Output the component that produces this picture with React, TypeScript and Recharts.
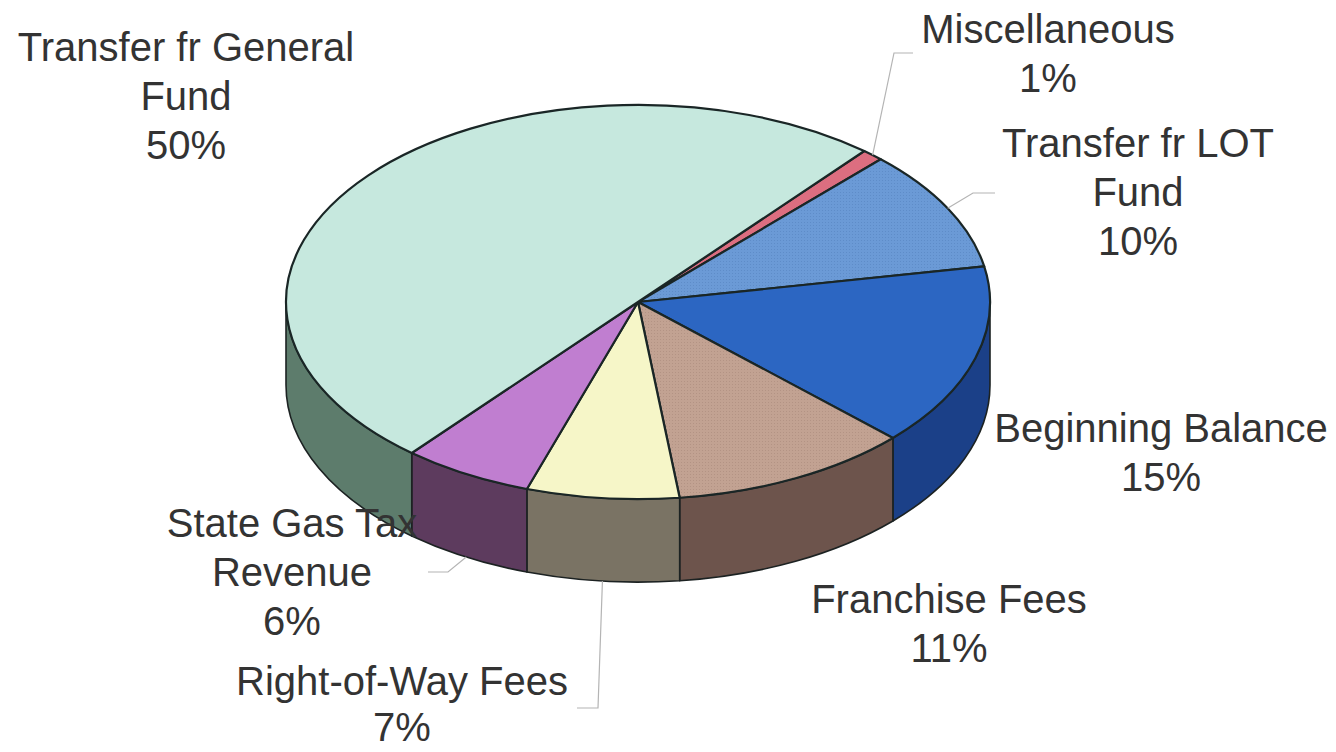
import { PieChart, Pie, Cell } from 'recharts'

// revenue sources, clockwise from the thin Miscellaneous slice
const CATEGORIES = [
  'Miscellaneous',
  'Transfer fr LOT\nFund',
  'Beginning Balance',
  'Franchise Fees',
  'Right-of-Way Fees',
  'State Gas Tax\nRevenue',
  'Transfer fr General\nFund',
]
const SHARES = [1, 10, 15, 11, 7, 6, 50]

const TOP_COLORS = ['#dc6e80', 'url(#texLot)', '#2c66c2', 'url(#texFranchise)', '#f6f6c8', '#c07ed0', '#c6e8de']
const SIDE_COLORS = ['#8a3a48', '#3a5a88', '#1b4088', '#6d544c', '#7a7364', '#5d3b5e', '#5d7c6c']

const data = CATEGORIES.map((name, i) => ({ name, value: SHARES[i] }))

const W = 1336
const H = 752
const CX = 638
const CY = 302
const RX = 352
const TILT = 0.56
const DEPTH = 83
const FONT = '"Liberation Sans", Arial, sans-serif'
const LINE_H = 49

// label block placement relative to the pie centre: [centre x, first baseline]
const LABEL_OFFSETS: Record<string, [number, number]> = {
  'Miscellaneous': [410, -259],
  'Transfer fr LOT\nFund': [500, -145],
  'Beginning Balance': [523, 140],
  'Franchise Fees': [311, 311],
  'Right-of-Way Fees': [-236, 393],
  'State Gas Tax\nRevenue': [-346, 235],
  'Transfer fr General\nFund': [-452, -241],
}

// leader lines: elbow and end point, relative to the pie centre
const LEADERS: Record<string, [number, number, number, number]> = {
  'Miscellaneous': [256, -249, 275, -249],
  'Transfer fr LOT\nFund': [335, -109, 357, -109],
  'State Gas Tax\nRevenue': [-190, 270, -210, 270],
  'Right-of-Way Fees': [-40, 406, -61, 406],
}

function ellipsePoint(cx: number, cy: number, rx: number, deg: number, dy = 0): [number, number] {
  const r = (deg * Math.PI) / 180
  return [cx + rx * Math.cos(r), cy - rx * TILT * Math.sin(r) + dy]
}

function Slice3D(props: any) {
  const { cx, cy, outerRadius: rx, startAngle, endAngle, fill } = props
  const ry = rx * TILT
  const name = props.payload?.name ?? props.name
  const idx = CATEGORIES.indexOf(name)
  const side = SIDE_COLORS[idx] ?? '#555'

  const [sx, sy] = ellipsePoint(cx, cy, rx, startAngle)
  const [ex, ey] = ellipsePoint(cx, cy, rx, endAngle)
  const large = Math.abs(startAngle - endAngle) > 180 ? 1 : 0
  const sweep = startAngle > endAngle ? 1 : 0
  const top = `M${cx},${cy} L${sx},${sy} A${rx},${ry} 0 ${large} ${sweep} ${ex},${ey} Z`

  // front-facing part of the rim (sin < 0)
  const lo = Math.min(startAngle, endAngle)
  const hi = Math.max(startAngle, endAngle)
  const walls: string[] = []
  for (const k of [-1, 0, 1]) {
    const a = Math.max(lo, -180 + 360 * k)
    const b = Math.min(hi, 360 * k)
    if (b - a > 0.01) {
      const [bx, by] = ellipsePoint(cx, cy, rx, b)
      const [ax, ay] = ellipsePoint(cx, cy, rx, a)
      walls.push(
        `M${bx},${by} A${rx},${ry} 0 0 1 ${ax},${ay} L${ax},${ay + DEPTH} A${rx},${ry} 0 0 0 ${bx},${by + DEPTH} Z`,
      )
    }
  }

  return (
    <g>
      {walls.map((d, i) => (
        <path key={i} d={d} fill={side} stroke="#1c2222" strokeWidth={1.6} strokeLinejoin="round" />
      ))}
      <path d={top} fill={fill} stroke="#1a2626" strokeWidth={2.2} strokeLinejoin="round" />
    </g>
  )
}

function SliceLabel(props: any) {
  const { cx, cy, outerRadius, midAngle, name, value } = props
  const off = LABEL_OFFSETS[name]
  if (!off) return null
  const lines = [...String(name).split('\n'), `${value}%`]
  const leader = LEADERS[name]
  let leaderPath = null
  if (leader) {
    const front = Math.sin((midAngle * Math.PI) / 180) < 0
    const [px, py] = ellipsePoint(cx, cy, outerRadius, midAngle, front ? DEPTH : 0)
    leaderPath = (
      <polyline
        points={`${px},${py} ${cx + leader[0]},${cy + leader[1]} ${cx + leader[2]},${cy + leader[3]}`}
        fill="none"
        stroke="#b4b4b4"
        strokeWidth={1.2}
      />
    )
  }
  return (
    <g>
      {leaderPath}
      <text x={cx + off[0]} y={cy + off[1]} textAnchor="middle" fontFamily={FONT} fontSize={40} fill="#333">
        {lines.map((l, i) => (
          <tspan key={i} x={cx + off[0]} dy={i === 0 ? 0 : LINE_H - (name === 'Right-of-Way Fees' ? 3 : 0)}>
            {l}
          </tspan>
        ))}
      </text>
    </g>
  )
}

export default function App() {
  return (
    <div style={{ position: 'absolute', left: 0, top: 0, width: W, height: H, background: '#fff' }}>
      <PieChart width={W} height={H} margin={{ top: 0, right: 0, bottom: 0, left: 0 }}>
        <defs>
          <pattern id="texLot" width="3" height="3" patternUnits="userSpaceOnUse">
            <rect width="3" height="3" fill="#6b9ad6" />
            <rect width="1" height="1" fill="#5e8cc8" />
          </pattern>
          <pattern id="texFranchise" width="3" height="3" patternUnits="userSpaceOnUse">
            <rect width="3" height="3" fill="#c2a292" />
            <rect width="1" height="1" fill="#b39384" />
          </pattern>
        </defs>
        <Pie
          data={data}
          dataKey="value"
          nameKey="name"
          cx={CX}
          cy={CY}
          outerRadius={RX}
          startAngle={50}
          endAngle={-310}
          stroke="none"
          shape={Slice3D}
          labelLine={false}
          label={SliceLabel}
          isAnimationActive={false}
        >
          {data.map((d, i) => (
            <Cell key={d.name} fill={TOP_COLORS[i]} />
          ))}
        </Pie>
      </PieChart>
    </div>
  )
}
